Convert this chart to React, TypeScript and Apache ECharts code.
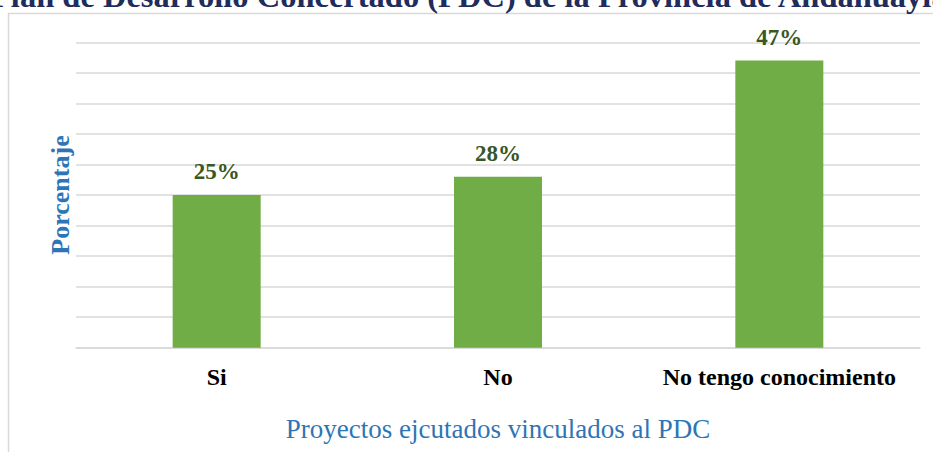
import React, { useEffect, useRef } from "react";
import * as echarts from "echarts";

const categories = ["Si", "No", "No tengo conocimiento"];
const values = [25, 28, 47];
const titleText = "Plan de Desarrollo Concertado (PDC) de la Provincia de Andahuaylas";
const xAxisName = "Proyectos ejcutados vinculados al PDC";
const yAxisName = "Porcentaje";

export default function App() {
  const ref = useRef<HTMLDivElement>(null);
  useEffect(() => {
    if (!ref.current) return;
    const chart = echarts.init(ref.current, null, { renderer: "svg" });
    const serif = "'Liberation Serif', 'Times New Roman', serif";
    chart.setOption({
      animation: false,
      backgroundColor: "#ffffff",
      graphic: [
        {
          type: "rect",
          shape: { x: 8.5, y: 13.5, width: 1200, height: 1200 },
          style: { fill: "none", stroke: "#D9D9D9", lineWidth: 1.5 },
          silent: true,
        },
        {
          type: "text",
          x: -9,
          y: -4,
          style: {
            text: titleText,
            font: `bold 32.5px ${serif}`,
            fill: "#1F2C5C",
            align: "left",
            verticalAlign: "middle",
          },
        },
      ],
      grid: { left: 76, right: 13, top: 42.3, bottom: 104.3 },
      xAxis: {
        type: "category",
        data: categories,
        axisLine: { lineStyle: { color: "#D9D9D9", width: 1.5 } },
        axisTick: { show: false },
        axisLabel: {
          interval: 0,
          color: "#000000",
          fontFamily: serif,
          fontWeight: "bold",
          fontSize: 24,
          margin: 17,
        },
        name: xAxisName,
        nameLocation: "middle",
        nameGap: 68,
        nameTextStyle: { color: "#2E75B6", fontFamily: serif, fontSize: 27 },
      },
      yAxis: {
        type: "value",
        min: 0,
        max: 50,
        interval: 5,
        axisLabel: { show: false },
        axisLine: { show: false },
        axisTick: { show: false },
        splitLine: { lineStyle: { color: "#D9D9D9", width: 1.5 } },
        name: yAxisName,
        nameLocation: "middle",
        nameRotate: 90,
        nameGap: 3,
        nameTextStyle: {
          color: "#2E75B6",
          fontFamily: serif,
          fontWeight: "bold",
          fontSize: 26,
        },
      },
      series: [
        {
          type: "bar",
          data: values,
          barWidth: 88,
          itemStyle: { color: "#70AD47" },
          label: {
            show: true,
            position: "top",
            distance: 12,
            formatter: "{c}%",
            color: "#385723",
            fontFamily: serif,
            fontWeight: "bold",
            fontSize: 23,
          },
        },
      ],
    });
    return () => chart.dispose();
  }, []);
  return (
    <div
      ref={ref}
      style={{ position: "fixed", left: 0, top: 0, width: 933, height: 452 }}
    />
  );
}
